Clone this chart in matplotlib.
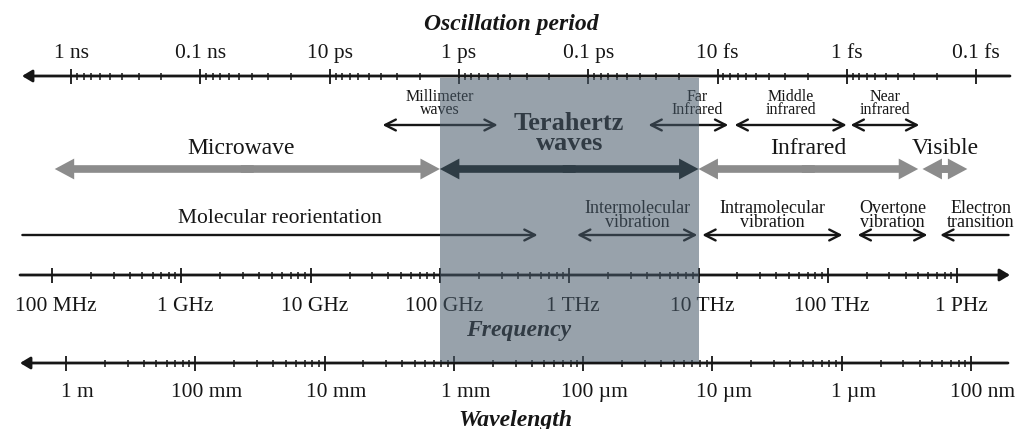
import numpy as np
import matplotlib.pyplot as plt
from matplotlib.patches import FancyArrowPatch, Rectangle

plt.rcParams['font.family'] = ['Liberation Serif', 'DejaVu Serif']

# the three scales: tick values and their labels
period_s = [1e-9, 1e-10, 1e-11, 1e-12, 1e-13, 1e-14, 1e-15, 1e-16]
period_labels = ['1 ns', '0.1 ns', '10 ps', '1 ps', '0.1 ps', '10 fs', '1 fs', '0.1 fs']
freq_hz = [1e8, 1e9, 1e10, 1e11, 1e12, 1e13, 1e14, 1e15]
freq_labels = ['100 MHz', '1 GHz', '10 GHz', '100 GHz', '1 THz', '10 THz', '100 THz', '1 PHz']
wave_m = [1, 1e-1, 1e-2, 1e-3, 1e-4, 1e-5, 1e-6, 1e-7]
wave_labels = ['1 m', '100 mm', '10 mm', '1 mm', '100 µm', '10 µm', '1 µm', '100 nm']

# main bands (Hz)
band_names = ['Microwave', 'Terahertz\nwaves', 'Infrared', 'Visible']
band_lo = [1.05e8, 1e11, 1e13, 5.4e14]
band_hi = [1e11, 1e13, 5e14, 1.2e15]

# sub bands (Hz)
sub_names = ['Millimeter\nwaves', 'Far\nInfrared', 'Middle\ninfrared', 'Near\ninfrared']
sub_lo = [3.6e10, 4.1e12, 1.9e13, 1.5e14]
sub_hi = [2.8e11, 1.7e13, 1.4e14, 5.1e14]

# molecular processes (Hz)
proc_names = ['Molecular reorientation', 'Intermolecular\nvibration', 'Intramolecular\nvibration',
              'Overtone\nvibration', 'Electron\ntransition']
proc_lo = [5.9e7, 1.15e12, 1.07e13, 1.7e14, 7.4e14]
proc_hi = [5.7e11, 9.8e12, 1.3e14, 5.9e14, 2.5e15]
proc_heads = ['->', '<->', '<->', '<->', '<-']

thz_lo, thz_hi = 1e11, 1e13

# x is log10(frequency); the period and wavelength scales are drawn with their own offsets
PX_DEC = 129.3
P_OFF = -0.853
W_OFF = 8.108
x_from_px = lambda px: 8 + (px - 52) / PX_DEC

fig = plt.figure(figsize=(10.26, 4.29), dpi=100)
ax = fig.add_axes([0, 0, 1, 1])
ax.set_xlim(x_from_px(0), x_from_px(1026))
ax.set_ylim(429, 0)
ax.axis('off')

ink = '#161616'
gray = '#8c8c8c'


def axis_line(x0, x1, y, head_left):
    a, b = ((x0, y), (x1, y)) if head_left else ((x1, y), (x0, y))
    ax.annotate('', xy=a, xytext=b,
                arrowprops=dict(arrowstyle='-|>,head_length=0.5,head_width=0.3',
                                color=ink, lw=2.0, shrinkA=0, shrinkB=0, mutation_scale=12))


def ticks(major, minor, y):
    ax.vlines(major, y - 7.5, y + 7.5, color=ink, lw=1.3)
    ax.vlines(minor, y - 3.5, y + 3.5, color=ink, lw=1.1)


def big_arrow(x0, x1, y, color):
    mid = (x0 + x1) / 2
    d = 0.05
    for start, end in ((mid + d, x0), (mid - d, x1)):
        ax.add_patch(FancyArrowPatch((start, y), (end, y),
                                     arrowstyle='simple,head_length=14,head_width=15,tail_width=5.5',
                                     mutation_scale=1, color=color, lw=0,
                                     shrinkA=0, shrinkB=0, zorder=3))


def small_arrow(x0, x1, y, style):
    ax.annotate('', xy=(x1, y), xytext=(x0, y),
                arrowprops=dict(arrowstyle=style + ',head_length=0.55,head_width=0.28',
                                color=ink, lw=1.7, shrinkA=0, shrinkB=0, mutation_scale=14))


def label(x, y, text, size, spacing=1.0, weight='normal'):
    # y is the baseline of the last line
    ax.text(x, y, text, ha='center', va='baseline', ma='center', fontsize=size,
            fontweight=weight, color=ink, linespacing=spacing)


# --- oscillation period scale ---
Y_PAX = 76
px = [P_OFF - np.log10(p) for p in period_s]
pminor = [P_OFF - np.log10(p * k / 10) for p in period_s[:-1] for k in range(2, 10)]
axis_line(x_from_px(22), x_from_px(1010), Y_PAX, head_left=True)
ticks(px, pminor, Y_PAX)
for x, lab in zip(px, period_labels):
    ax.text(x, 58, lab, ha='center', va='baseline', fontsize=15.5, color=ink)
ax.text(x_from_px(511), 30, 'Oscillation period', ha='center', va='baseline',
        fontsize=17, fontweight='bold', fontstyle='italic', color=ink)

# --- frequency scale ---
Y_FAX = 275
fx = [np.log10(f) for f in freq_hz]
fminor = [np.log10(f * k) for f in freq_hz[:-1] for k in range(2, 10)]
axis_line(x_from_px(20), x_from_px(1010), Y_FAX, head_left=False)
ticks(fx, fminor, Y_FAX)
for x, lab in zip(fx, freq_labels):
    ax.text(x + 0.03, 311, lab, ha='center', va='baseline', fontsize=15.5, color=ink)
ax.text(x_from_px(519), 336, 'Frequency', ha='center', va='baseline',
        fontsize=17, fontweight='bold', fontstyle='italic', color=ink)

# --- wavelength scale ---
Y_WAX = 363
wx = [W_OFF - np.log10(w) for w in wave_m]
wminor = [W_OFF - np.log10(w) + np.log10(k) for w in wave_m[:-1] for k in range(2, 10)]
axis_line(x_from_px(20), x_from_px(1008), Y_WAX, head_left=True)
ticks(wx, wminor, Y_WAX)
for x, lab in zip(wx, wave_labels):
    ax.text(x + 0.09, 397, lab, ha='center', va='baseline', fontsize=15.5, color=ink)
ax.text(x_from_px(515), 426, 'Wavelength', ha='center', va='baseline',
        fontsize=17, fontweight='bold', fontstyle='italic', color=ink)

# --- sub bands ---
for name, lo, hi in zip(sub_names, sub_lo, sub_hi):
    x0, x1 = np.log10(lo), np.log10(hi)
    small_arrow(x0, x1, 125, '<->')
    xc = (x0 + x1) / 2 + (0.07 if name.startswith('Far') else 0)
    label(xc, 114, name, 11.5, spacing=0.72)

# --- main bands ---
for name, lo, hi in zip(band_names, band_lo, band_hi):
    x0, x1 = np.log10(lo), np.log10(hi)
    big_arrow(x0, x1, 169, '#101818' if name.startswith('Tera') else gray)
    if name.startswith('Tera'):
        label((x0 + x1) / 2, 150, name, 19, spacing=0.82, weight='bold')
    else:
        label((x0 + x1) / 2 - (0.05 if name == 'Microwave' else 0), 154, name, 17)

# --- molecular processes ---
for name, lo, hi, st in zip(proc_names, proc_lo, proc_hi, proc_heads):
    x0, x1 = np.log10(lo), np.log10(hi)
    small_arrow(x0, x1, 235, st)
    xc = (x0 + x1) / 2 + (0.05 if name.startswith('Electron') else 0)
    if '\n' in name:
        label(xc, 227, name, 13, spacing=0.8)
    else:
        label(xc, 223, name, 15.5)

# --- terahertz shading (translucent overlay) ---
ax.add_patch(Rectangle((np.log10(thz_lo), 78), np.log10(thz_hi) - np.log10(thz_lo), 284,
                       facecolor=(0.28, 0.35, 0.41), alpha=0.56, lw=0, zorder=10))

fig.savefig('out.png', dpi=100)
